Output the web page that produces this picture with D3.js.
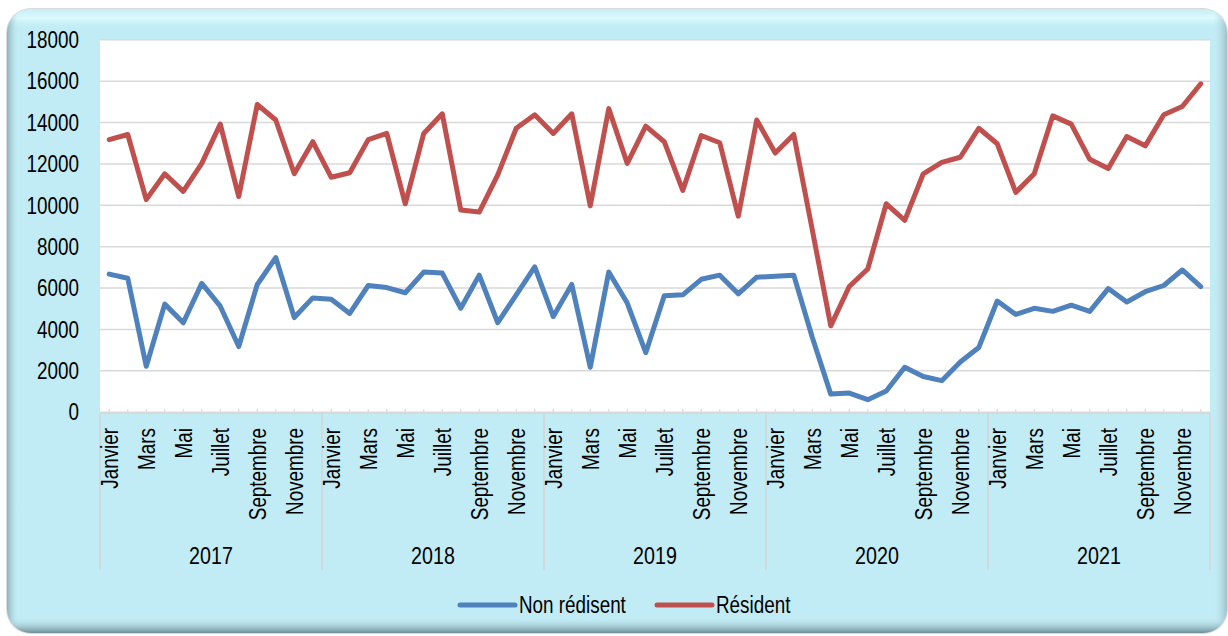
<!DOCTYPE html>
<html lang="fr">
<head>
<meta charset="utf-8">
<title>Résident / Non résident</title>
<style>
    body { margin: 0; background: #fff; }
    svg { display: block; font-family: "Liberation Sans", Arial, sans-serif; }
</style>
</head>
<body>
<svg id="chart" width="1228" height="636"></svg>
<script src="https://cdn.jsdelivr.net/npm/d3@7"></script>
<script>
const years = ["2017", "2018", "2019", "2020", "2021"];
const months = ["Janvier", "Février", "Mars", "Avril", "Mai", "Juin",
    "Juillet", "Août", "Septembre", "Octobre", "Novembre", "Décembre"];
const yTicks = [0, 2000, 4000, 6000, 8000, 10000, 12000, 14000, 16000, 18000];
const seriesNames = ["Non rédisent", "Résident"];

const nonResident = [
    6650, 6450, 2200, 5200, 4300, 6200, 5100, 3150, 6150, 7450, 4550, 5500,
    5430, 4750, 6100, 6000, 5750, 6750, 6700, 5000, 6600, 4300, 5650, 7000,
    4600, 6150, 2150, 6750, 5250, 2850, 5600, 5650, 6400, 6600, 5700, 6500,
    6550, 6600, 3600, 850, 900, 580, 1000, 2150, 1700, 1500, 2400, 3100,
    5350, 4700, 5000, 4850, 5150, 4850, 5950, 5300, 5800, 6100, 6850, 6050
];
const resident = [
    13150, 13400, 10250, 11500, 10650, 12000, 13900, 10400, 14850, 14100, 11500, 13050,
    11330, 11550, 13150, 13450, 10050, 13450, 14400, 9750, 9650, 11450, 13700, 14350,
    13450, 14400, 9950, 14650, 12000, 13800, 13050, 10700, 13350, 13000, 9450, 14100,
    12500, 13400, 8800, 4150, 6050, 6900, 10050, 9250, 11500, 12050, 12300, 13700,
    12950, 10600, 11500, 14300, 13900, 12200, 11750, 13300, 12850, 14350, 14750, 15850
];

const colors = ["#4f81bd", "#c0504d"];
const narrow = 0.82;      // condensed look of the original font
const fontSize = 23;

const svg = d3.select("#chart");
const defs = svg.append("defs");

// frame gradients
const gLeft = defs.append("linearGradient").attr("id", "gLeft").attr("x1", 0).attr("x2", 1).attr("y1", 0).attr("y2", 0);
gLeft.append("stop").attr("offset", 0).attr("stop-color", "#8fb0b9");
gLeft.append("stop").attr("offset", 1).attr("stop-color", "#c2ecf5").attr("stop-opacity", 0);
const gRight = defs.append("linearGradient").attr("id", "gRight").attr("x1", 1).attr("x2", 0).attr("y1", 0).attr("y2", 0);
gRight.append("stop").attr("offset", 0).attr("stop-color", "#9dc0c9");
gRight.append("stop").attr("offset", 1).attr("stop-color", "#c2ecf5").attr("stop-opacity", 0);
const gBottom = defs.append("linearGradient").attr("id", "gBottom").attr("x1", 0).attr("x2", 0).attr("y1", 1).attr("y2", 0);
gBottom.append("stop").attr("offset", 0).attr("stop-color", "#6f8d96");
gBottom.append("stop").attr("offset", 1).attr("stop-color", "#c2ecf5").attr("stop-opacity", 0);
const gTop = defs.append("linearGradient").attr("id", "gTop").attr("x1", 0).attr("x2", 0).attr("y1", 0).attr("y2", 1);
gTop.append("stop").attr("offset", 0).attr("stop-color", "#c6eef6");
gTop.append("stop").attr("offset", 0.45).attr("stop-color", "#dcfafe");
gTop.append("stop").attr("offset", 1).attr("stop-color", "#c2ecf5").attr("stop-opacity", 0);

defs.append("clipPath").attr("id", "frameClip")
    .append("rect").attr("x", 7).attr("y", 9).attr("width", 1220).attr("height", 624).attr("rx", 24);

// frame
svg.append("rect").attr("x", 6).attr("y", 8).attr("width", 1222).attr("height", 626).attr("rx", 25)
    .attr("fill", "#dadada");
const frame = svg.append("g").attr("clip-path", "url(#frameClip)");
frame.append("rect").attr("x", 7).attr("y", 9).attr("width", 1220).attr("height", 624).attr("fill", "#c2ecf5");
frame.append("rect").attr("x", 7).attr("y", 9).attr("width", 1220).attr("height", 20).attr("fill", "url(#gTop)");
frame.append("rect").attr("x", 7).attr("y", 9).attr("width", 12).attr("height", 624).attr("fill", "url(#gLeft)");
frame.append("rect").attr("x", 1213).attr("y", 9).attr("width", 14).attr("height", 624).attr("fill", "url(#gRight)");
frame.append("rect").attr("x", 7).attr("y", 617).attr("width", 1220).attr("height", 16).attr("fill", "url(#gBottom)");

// plot area
const plot = {left: 100, right: 1210, top: 39.3, bottom: 411.7};
svg.append("rect").attr("x", plot.left).attr("y", plot.top)
    .attr("width", plot.right - plot.left).attr("height", 413.5 - plot.top).attr("fill", "#fff");

const n = resident.length;
const x = d3.scaleBand().domain(d3.range(n)).range([plot.left, plot.right]);
const cx = i => x(i) + x.bandwidth() / 2;
const y = d3.scaleLinear().domain([0, 18000]).range([plot.bottom, plot.top]);

// gridlines
svg.append("g")
    .attr("transform", `translate(${plot.left},0)`)
    .call(d3.axisLeft(y).tickValues(yTicks).tickSize(-(plot.right - plot.left)).tickFormat(""))
    .call(g => g.select(".domain").remove())
    .call(g => g.selectAll("line").attr("stroke", "#d9d9d9").attr("stroke-width", 1.6));

// y labels
svg.append("g")
    .attr("transform", `translate(${plot.left},0)`)
    .call(d3.axisLeft(y).tickValues(yTicks).tickSize(0).tickFormat(d3.format("d")))
    .call(g => g.select(".domain").remove())
    .call(g => g.selectAll("text")
        .attr("x", -21 / narrow)
        .attr("dy", "0.36em")
        .attr("transform", `scale(${narrow},1)`)
        .attr("fill", "#000")
        .attr("font-size", fontSize)
        .attr("font-family", "Liberation Sans, Arial, sans-serif"));

// x ticks
const xAxis = d3.axisTop(x).tickSizeInner(4).tickSizeOuter(0).tickFormat("");
svg.append("g")
    .attr("transform", "translate(0,413)")
    .call(xAxis)
    .call(g => g.select(".domain").attr("stroke", "#d9d9d9").attr("stroke-width", 1.2))
    .call(g => g.selectAll("line").attr("stroke", "#d9d9d9").attr("stroke-width", 1.2));

// year separators
const bounds = d3.range(0, years.length + 1).map(k => k < years.length ? x(k * 12) : plot.right);
svg.append("g").selectAll("line").data(bounds).join("line")
    .attr("x1", d => d).attr("x2", d => d)
    .attr("y1", 413).attr("y2", 570)
    .attr("stroke", "#d4d4d4").attr("stroke-width", 1.5);

// month labels (every other month)
const monthIdx = d3.range(n).filter(i => i % 2 === 0);
svg.append("g").selectAll("text").data(monthIdx).join("text")
    .attr("transform", i => `translate(${cx(i)},428) rotate(-90) scale(${narrow},1)`)
    .attr("dy", "0.36em")
    .attr("text-anchor", "end")
    .attr("font-size", fontSize)
    .attr("fill", "#000")
    .text(i => months[i % 12]);

// year labels
svg.append("g").selectAll("text").data(years).join("text")
    .attr("transform", (d, k) => `translate(${(bounds[k] + bounds[k + 1]) / 2},564) scale(${narrow},1)`)
    .attr("text-anchor", "middle")
    .attr("font-size", fontSize + 1)
    .attr("fill", "#000")
    .text(d => d);

// lines
const line = d3.line().x((d, i) => cx(i)).y(d => y(d));
[nonResident, resident].forEach((s, k) => {
    svg.append("path")
        .datum(s)
        .attr("d", line)
        .attr("fill", "none")
        .attr("stroke", colors[k])
        .attr("stroke-width", 5)
        .attr("stroke-linejoin", "round")
        .attr("stroke-linecap", "round");
});

// legend
const legendX = [460, 657];
const legend = svg.append("g").selectAll("g").data(seriesNames).join("g")
    .attr("transform", (d, k) => `translate(${legendX[k]},605)`);
legend.append("line")
    .attr("x1", 0).attr("x2", 55)
    .attr("stroke", (d, k) => colors[k])
    .attr("stroke-width", 5)
    .attr("stroke-linecap", "round");
legend.append("text")
    .attr("transform", `translate(59,0) scale(${narrow},1)`)
    .attr("dy", "0.36em")
    .attr("font-size", fontSize)
    .attr("fill", "#000")
    .text(d => d);
</script>
</body>
</html>
